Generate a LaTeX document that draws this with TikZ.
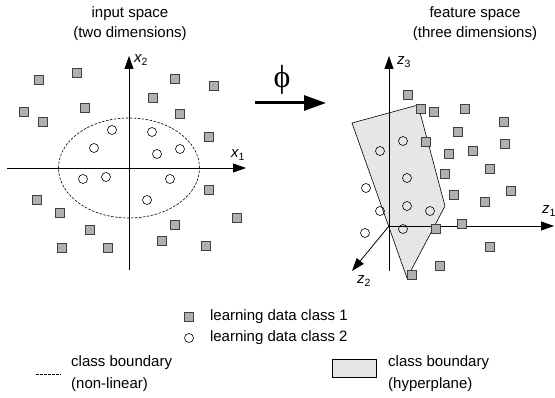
\documentclass[tikz,border=0pt]{standalone}
\usepackage{fontspec}
\setmainfont{Liberation Sans}
\newfontfamily\greekfont{Liberation Serif}
\usetikzlibrary{arrows.meta, positioning}
\definecolor{sqgray}{RGB}{176,176,176}
\definecolor{planegray}{RGB}{230,230,230}
\newcommand\axlab[2]{{\itshape #1}\textsubscript{#2}}

\begin{document}
\begin{tikzpicture}[x=1pt, y=-1pt,
  every node/.style={font=\fontsize{15}{20}\selectfont},
  sq/.style={draw=black!75, fill=sqgray, line width=0.8pt, minimum size=9pt, inner sep=0pt},
  circ/.style={circle, draw, line width=0.6pt, minimum size=9pt, inner sep=0pt},
  axis/.style={-{Triangle[length=13pt, width=9pt]}, line width=0.8pt},
  bound/.style={dash pattern=on 2.5pt off 1.5pt, line width=0.6pt},
  plane/.style={draw, fill=planegray, line width=0.6pt},
  title/.style={align=center, inner sep=0pt},
  lbl/.style={inner sep=0pt},
  legtext/.style={align=left, anchor=west, inner sep=0pt, font=\fontsize{15}{22}\selectfont},
  phiarr/.style={-{Triangle[length=22pt, width=15pt]}, line width=3pt}
]
\useasboundingbox (0,0) rectangle (555,398);

% titles
\node[title] (tin)  at (130,24) {input space\\(two dimensions)};
\node[title] (tfea) at (475,24) {feature space\\(three dimensions)};

% input space
\coordinate (o1)  at (129,168);
\coordinate (x1s) at (7,168);   \coordinate (x1e) at (246,168);
\coordinate (x2s) at (129,270); \coordinate (x2e) at (129,56);
\draw[axis] (x1s) -- (x1e);
\draw[axis] (x2s) -- (x2e);
\node[lbl] (lx1) at (238,155) {\axlab{x}{1}};
\node[lbl] (lx2) at (141,60)  {\axlab{x}{2}};
\draw[bound] (o1) ellipse [x radius=70.5pt, y radius=50pt];
\foreach \px/\py [count=\i] in {39/80, 77/73, 175/79, 214/86, 153/98, 85/108, 180/114,
    24/112, 43/122, 209/137, 209/190, 37/200, 60/213, 237/218, 175/225, 90/230,
    162/241, 62/248, 108/248, 206/246}
  \node[sq] (sqL\i) at (\px,\py) {};
\foreach \px/\py [count=\i] in {112/130, 152/132, 94/148, 180/149, 157/154, 83/179,
    106/177, 170/179, 147/200}
  \node[circ] (ciL\i) at (\px,\py) {};

% mapping
\coordinate (phs) at (255,103); \coordinate (phe) at (326,103);
\draw[phiarr] (phs) -- (phe);
\node[lbl] (phi) at (282,80) {\greekfont\fontsize{32}{32}\selectfont ϕ};

% feature space
\draw[plane] (352,123) -- (418,105) -- (445,206) -- (407,278) -- cycle;
\coordinate (zo)  at (389,226);
\coordinate (z1e) at (554,226);
\coordinate (z3s) at (389,271); \coordinate (z3e) at (389,56);
\coordinate (z2e) at (352,271);
\draw[axis] (zo) -- (z1e);
\draw[axis] (z3s) -- (z3e);
\draw[axis] (zo) -- (z2e);
\node[lbl] (lz1) at (549,211) {\axlab{z}{1}};
\node[lbl] (lz2) at (364,281) {\axlab{z}{2}};
\node[lbl] (lz3) at (404,62)  {\axlab{z}{3}};
\foreach \px/\py [count=\i] in {408/95, 421/109, 434/112, 465/109, 504/122, 458/132,
    426/142, 505/144, 473/151, 449/154, 490/169, 445/174, 511/191, 454/195, 485/202,
    436/229, 462/224, 490/247, 440/266, 412/275}
  \node[sq] (sqR\i) at (\px,\py) {};
\foreach \px/\py [count=\i] in {403/141, 380/151, 407/178, 366/188, 407/206, 380/211,
    430/211, 365/233, 403/229}
  \node[circ] (ciR\i) at (\px,\py) {};

% legend
\node[sq] (legsq) at (189,317) {};
\node[legtext, right=16pt of legsq] (legc1) {learning data class 1};
\node[circ] (legci) at (189,338) {};
\node[legtext, right=16pt of legci] (legc2) {learning data class 2};
\coordinate (dsA) at (36,374); \coordinate (dsB) at (61,374);
\draw[bound] (dsA) -- (dsB);
\node[legtext] (legnl) at (71,374) {class boundary\\(non-linear)};
\node[plane, minimum width=44pt, minimum height=18pt, inner sep=0pt] (legpl) at (354,368) {};
\node[legtext] (leghp) at (388,374) {class boundary\\(hyperplane)};
\end{tikzpicture}
\end{document}
